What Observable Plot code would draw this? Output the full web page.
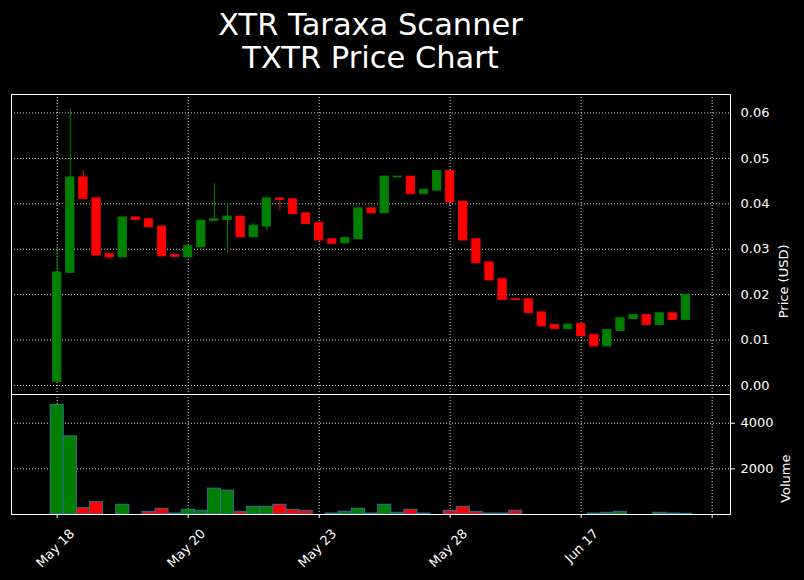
<!DOCTYPE html>
<html>
<head>
<meta charset="utf-8">
<script src="https://cdn.jsdelivr.net/npm/d3@7"></script>
<script src="https://cdn.jsdelivr.net/npm/@observablehq/plot@0.6"></script>
<style>
  html, body { margin: 0; padding: 0; background: #000; }
  body { width: 804px; height: 580px; position: relative; overflow: hidden; font-family: "DejaVu Sans", sans-serif; }
  #title { position: absolute; left: 0; width: 741px; top: 8px; text-align: center; color: #fff; font-size: 30.5px; line-height: 33px; }
  #price { position: absolute; left: 0; top: 90px; }
  #volume { position: absolute; left: 0; top: 394px; }
  svg { overflow: visible; }
</style>
</head>
<body>
<div id="title">XTR Taraxa Scanner<br>TXTR Price Chart</div>
<div id="price"></div>
<div id="volume"></div>
<script>
// ---- data ----
const open  = [0.0008,0.0248,0.0458,0.0412,0.0289,0.0282,0.0370,0.0366,0.0350,0.0287,
               0.0282,0.0304,0.0362,0.0364,0.0372,0.0326,0.0350,0.0412,0.0410,0.0379,
               0.0358,0.0322,0.0313,0.0322,0.0390,0.0379,0.0458,0.0460,0.0421,0.0429,
               0.0472,0.0405,0.0322,0.0271,0.0234,0.0190,0.0190,0.0161,0.0133,0.0124,
               0.0135,0.0111,0.0086,0.0120,0.0146,0.0155,0.0133,0.0159,0.0144];
const close = [0.0249,0.0458,0.0410,0.0286,0.0282,0.0370,0.0364,0.0348,0.0284,0.0283,
               0.0307,0.0363,0.0366,0.0372,0.0326,0.0352,0.0412,0.0408,0.0377,0.0355,
               0.0319,0.0312,0.0325,0.0390,0.0379,0.0460,0.0460,0.0421,0.0431,0.0472,
               0.0403,0.0319,0.0269,0.0231,0.0188,0.0188,0.0159,0.0130,0.0124,0.0134,
               0.0108,0.0086,0.0122,0.0148,0.0155,0.0133,0.0159,0.0144,0.0200];
const high  = [0.0309,0.0609,0.0473,0.0412,0.0289,0.0370,0.0370,0.0366,0.0350,0.0287,
               0.0307,0.0363,0.0444,0.0402,0.0372,0.0358,0.0412,0.0412,0.0410,0.0379,
               0.0358,0.0322,0.0325,0.0390,0.0390,0.0460,0.0460,0.0460,0.0431,0.0472,
               0.0472,0.0405,0.0322,0.0271,0.0234,0.0190,0.0190,0.0161,0.0133,0.0134,
               0.0135,0.0111,0.0122,0.0148,0.0155,0.0155,0.0159,0.0159,0.0200];
const low   = [0.0008,0.0248,0.0410,0.0286,0.0277,0.0282,0.0364,0.0348,0.0284,0.0283,
               0.0282,0.0304,0.0362,0.0292,0.0326,0.0326,0.0340,0.0385,0.0377,0.0355,
               0.0319,0.0312,0.0313,0.0322,0.0379,0.0379,0.0458,0.0421,0.0421,0.0429,
               0.0403,0.0319,0.0269,0.0231,0.0188,0.0188,0.0159,0.0130,0.0124,0.0124,
               0.0108,0.0086,0.0086,0.0120,0.0146,0.0133,0.0133,0.0144,0.0144];
const volume = [4794,3426,279,544,0,426,0,118,250,44,
                206,162,1132,1044,118,338,338,426,206,162,
                0,44,118,250,44,426,74,206,44,0,
                162,338,118,44,44,162,0,0,0,0,
                0,44,74,118,0,0,74,44,30];
const tickIdx = [0, 10, 20, 30, 40, 50];
const tickLabels = ["May 18", "May 20", "May 23", "May 28", "Jun 17", ""];
const priceTicks = [0, 0.01, 0.02, 0.03, 0.04, 0.05, 0.06];
const volumeTicks = [2000, 4000];

const UP = "#008000", DOWN = "#ff0000", VOL_EDGE = "#2f6f8f";
const candles = open.map((o, i) => ({
  i, open: o, close: close[i], high: high[i], low: low[i], volume: volume[i],
  color: close[i] >= o ? UP : DOWN
}));

const xDomain = [-3.49, 51.4];
const grid = {stroke: "#ffffff", strokeOpacity: 0.85, strokeDasharray: "1,2", strokeWidth: 1};
const style = {background: "transparent", color: "white", fontFamily: "DejaVu Sans", fontSize: "13px", overflow: "visible"};

const price = Plot.plot({
  width: 804, height: 304,
  marginTop: 4, marginBottom: 0, marginLeft: 11, marginRight: 74,
  style,
  x: {domain: xDomain, axis: null},
  y: {domain: [-0.00198, 0.06406], axis: null},
  marks: [
    Plot.gridY(priceTicks, grid),
    Plot.gridX(tickIdx, grid),
    Plot.ruleX(candles, {x: "i", y1: "low", y2: "high", stroke: "color", strokeWidth: 1}),
    Plot.rect(candles, {
      x1: d => d.i - 0.32, x2: d => d.i + 0.32,
      y1: "open", y2: "close", fill: "color", stroke: "color", strokeWidth: 0.8
    }),
    Plot.axisY(priceTicks, {anchor: "right", tickFormat: d3.format(".2f"), tickSize: 4, tickPadding: 6, label: null, fill: "white", stroke: null}),
    Plot.text(["Price (USD)"], {frameAnchor: "right", dx: 53, rotate: -90, fill: "white", fontSize: 13}),
    Plot.frame({stroke: "white", strokeWidth: 1})
  ]
});
document.getElementById("price").append(price);

const vol = Plot.plot({
  width: 804, height: 186,
  marginTop: 0, marginBottom: 66, marginLeft: 11, marginRight: 74,
  style,
  x: {domain: xDomain, axis: null},
  y: {domain: [0, 5260], axis: null},
  marks: [
    Plot.gridY(volumeTicks, grid),
    Plot.gridX(tickIdx, grid),
    Plot.rect(candles, {
      x1: d => d.i - 0.5, x2: d => d.i + 0.5,
      y1: 0, y2: "volume", fill: "color", stroke: VOL_EDGE, strokeWidth: 1
    }),
    Plot.axisY(volumeTicks, {anchor: "right", tickFormat: d3.format("d"), tickSize: 4, tickPadding: 6, label: null, fill: "white"}),
    Plot.axisX(tickIdx, {anchor: "bottom", tickSize: 4, tickFormat: () => "", label: null}),
    Plot.text(tickIdx, {
      x: d => d, frameAnchor: "bottom", text: d => tickLabels[tickIdx.indexOf(d)],
      rotate: -45, textAnchor: "end", dx: 18, dy: 20, fill: "white", fontSize: 13
    }),
    Plot.text(["Volume"], {frameAnchor: "right", dx: 55, rotate: -90, fill: "white", fontSize: 13}),
    Plot.frame({stroke: "white", strokeWidth: 1})
  ]
});
document.getElementById("volume").append(vol);
</script>
</body>
</html>
